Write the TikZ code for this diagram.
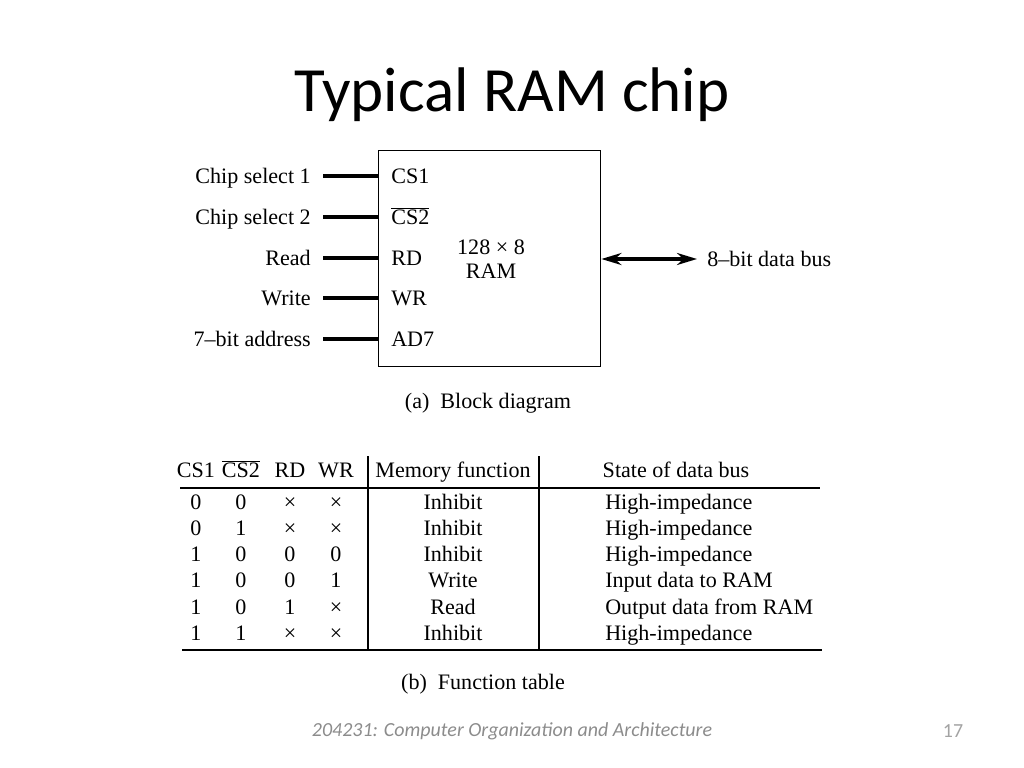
\documentclass[tikz,border=0pt]{standalone}
\usepackage{fontspec}
\setmainfont{Liberation Serif}
\newfontfamily\slidefont{Carlito}
\usetikzlibrary{arrows.meta}
\definecolor{footgray}{HTML}{8C8C8C}
\tikzset{
  txt/.style={inner sep=0pt, font=\fontsize{15.7}{19}\selectfont, text height=10.5pt, text depth=0pt},
  pin/.style={line width=2.2pt},
  rule/.style={line width=1.1pt}
}

\begin{document}
\begin{tikzpicture}[x=0.025cm, y=-0.025cm]
			%%%%% START %%%%%
			\useasboundingbox (0, 0) rectangle (1024, 768);
			
			\node[font=\slidefont\fontsize{44.8}{48}\selectfont, inner sep=0pt] (title) at (512, 95) {Typical RAM chip};
			
			% block diagram
			\node[draw, line width=1pt, minimum width=222*0.025cm, minimum height=216*0.025cm, anchor=north west, inner sep=0pt] (ram) at (378, 150) {};
			\node[inner sep=0pt, font=\fontsize{15.7}{17}\selectfont, align=center] (size) at (491, 259) {128 × 8\\RAM};
			
			\node[txt, anchor=east] (l1) at (311, 176) {Chip select 1};
			\node[txt, anchor=east] (l2) at (311, 217) {Chip select 2};
			\node[txt, anchor=east] (l3) at (311, 258) {Read};
			\node[txt, anchor=east] (l4) at (311, 298) {Write};
			\node[txt, anchor=east] (l5) at (311, 339) {7--bit address};
			
			\node[txt, anchor=west] (p1) at (391, 176) {CS1};
			\node[txt, anchor=west] (p2) at (391, 217) {$\overline{\mbox{CS2}}$};
			\node[txt, anchor=west] (p3) at (391, 258) {RD};
			\node[txt, anchor=west] (p4) at (391, 298) {WR};
			\node[txt, anchor=west] (p5) at (391, 339) {AD7};
			
			\foreach \k in {1,...,5}
			  \draw[pin] ([xshift=0.3cm]l\k.east) -- (l\k.east -| ram.west);
			
			\node[txt, anchor=west] (bus) at (707, 259) {8--bit data bus};
			\draw[pin, {Stealth[length=0.5cm, width=0.3cm]}-{Stealth[length=0.5cm, width=0.3cm]}] (bus.west -| ram.east) -- ([xshift=-0.25cm]bus.west);
			
			\node[txt] (capa) at (488, 401) {(a)\enspace Block diagram};
			
			% function table
			\node[txt] (h1) at (196, 470) {CS1};
			\node[txt] (h2) at (241, 470) {$\overline{\mbox{CS2}}$};
			\node[txt] (h3) at (290, 470) {RD};
			\node[txt] (h4) at (336, 470) {WR};
			\node[txt] (h5) at (453, 470) {Memory function};
			\node[txt] (h6) at (676, 470) {State of data bus};
			
			\foreach \a/\b/\r/\w/\m/\s [count=\i from 0] in {
			    0/0/×/×/Inhibit/High-impedance,
			    0/1/×/×/Inhibit/High-impedance,
			    1/0/0/0/Inhibit/High-impedance,
			    1/0/0/1/Write/Input data to RAM,
			    1/0/1/×/Read/Output data from RAM,
			    1/1/×/×/Inhibit/High-impedance}{
			  \node[txt] (cs1-\i) at (196, 502+26.2*\i) {\a};
			  \node[txt] (cs2-\i) at (241, 502+26.2*\i) {\b};
			  \node[txt] (rd-\i) at (290, 502+26.2*\i) {\r};
			  \node[txt] (wr-\i) at (336, 502+26.2*\i) {\w};
			  \node[txt] (fn-\i) at (453, 502+26.2*\i) {\m};
			  \node[txt, anchor=west] (st-\i) at (605, 502+26.2*\i) {\s};
			}
			
			\coordinate (tl) at (180, 488);
			\coordinate (tr) at (820, 488);
			\coordinate (bl) at (182, 650);
			\coordinate (br) at (822, 650);
			\draw[rule] (tl) -- (tr);
			\draw[rule] (bl) -- (br);
			\draw[rule] (368, 456) -- (368, 650);
			\draw[rule] (539, 456) -- (539, 650);
			
			\node[txt] (capb) at (483, 682) {(b)\enspace Function table};
			
			% footer
			\node[font=\slidefont\itshape\fontsize{14.2}{16}\selectfont, text=footgray, inner sep=0pt] (foot) at (512, 731) {204231: Computer Organization and Architecture};
			\node[font=\slidefont\fontsize{14.2}{16}\selectfont, text=footgray!80, inner sep=0pt] (page) at (953, 731) {17};
			%%%%% END %%%%%
\end{tikzpicture}
\end{document}
